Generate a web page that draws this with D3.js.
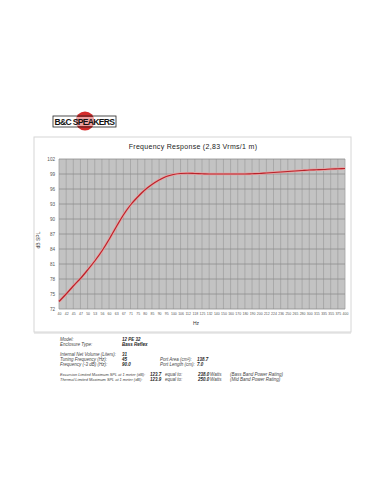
<!DOCTYPE html>
<html>
<head>
  <meta charset="utf-8">
  <script src="https://cdn.jsdelivr.net/npm/d3@7"></script>
  <style>
    body { margin: 0; background: #fff; }
    svg { display: block; font-family: "Liberation Sans", Arial, sans-serif; }
    .spec { font-size: 4.5px; font-style: italic; fill: #444; }
    .spec.val { font-weight: bold; fill: #222; }
    .spec.long { font-size: 3.9px; }
  </style>
</head>
<body>
<script>
  // frequency bands (Hz), one per category
  const freqLabels = ["40","42","45","47","50","53","56","60","63","67","71","75","80","85","90","95",
    "100","106","112","118","125","132","140","150","160","170","180","190","200","212","224","236",
    "250","265","280","300","315","335","355","375","400"];
  // SPL (dB) for each band
  const splValues = [73.5, 75.0, 76.6, 78.1, 79.8, 81.6, 83.6, 85.9, 88.4, 90.8, 92.8, 94.4, 95.8,
    96.9, 97.8, 98.5, 98.9, 99.1, 99.15, 99.1, 99.05, 99.0, 99.0, 99.0, 99.0, 99.0, 99.0, 99.05,
    99.1, 99.2, 99.3, 99.4, 99.5, 99.6, 99.7, 99.8, 99.85, 99.9, 100.0, 100.05, 100.1];
  const yTicks = [72, 75, 78, 81, 84, 87, 90, 93, 96, 99, 102];

  const specRows = [
    ["Model:", "12 PE 32"],
    ["Enclosure Type:", "Bass Reflex"],
    ["Internal Net Volume (Liters):", "31"],
    ["Tuning Frequency (Hz):", "45", "Port Area (cm\u00b2):", "138.7"],
    ["Frequency (-3 dB) (Hz):", "90.0", "Port Length (cm):", "7.0"],
    ["Excursion Limited Maximum SPL at 1 meter (dB):", "123.7", "equal to:", "238.0", "Watts", "(Bass Band Power Rating)"],
    ["Thermal Limited Maximum SPL at 1 meter (dB):", "123.9", "equal to:", "250.0", "Watts", "(Mid Band Power Rating)"]
  ];

  const w = 381, h = 492;
  const plot = { left: 59, right: 345, top: 159, bottom: 309 };

  const svg = d3.select("body").append("svg")
    .attr("width", w).attr("height", h);

  // logo
  const logo = svg.append("g").attr("transform", "translate(53,113)");
  logo.append("circle").attr("cx", 32).attr("cy", 8).attr("r", 9.5).attr("fill", "#d42a2a");
  logo.append("rect").attr("x", 0).attr("y", 3).attr("width", 63).attr("height", 11)
    .attr("fill", "none").attr("stroke", "#222").attr("stroke-width", 0.8);
  logo.append("rect").attr("x", 1).attr("y", 4).attr("width", 61).attr("height", 9)
    .attr("fill", "#fff").attr("fill-opacity", 0.55);
  logo.append("text").attr("x", 31.5).attr("y", 11.8).attr("text-anchor", "middle")
    .attr("font-size", "8.6px").attr("font-weight", "bold").attr("letter-spacing", "-0.5px")
    .attr("fill", "#111").attr("textLength", 60).text("B&C SPEAKERS");

  // chart frame
  svg.append("rect").attr("x", 34).attr("y", 137).attr("width", 317).attr("height", 195)
    .attr("fill", "none").attr("stroke", "#d6d6d6").attr("stroke-width", 1);

  svg.append("text").attr("x", 193).attr("y", 149).attr("text-anchor", "middle")
    .attr("font-size", "7px").attr("fill", "#222").attr("letter-spacing", "0.3px")
    .text("Frequency Response (2,83 Vrms/1 m)");

  const x = d3.scalePoint().domain(freqLabels).range([plot.left, plot.right]);
  const y = d3.scaleLinear().domain([72, 102]).range([plot.bottom, plot.top]);

  svg.append("rect").attr("x", plot.left).attr("y", plot.top)
    .attr("width", plot.right - plot.left).attr("height", plot.bottom - plot.top)
    .attr("fill", "#c3c3c3");

  // vertical grid
  svg.append("g").selectAll("line").data(freqLabels).join("line")
    .attr("x1", d => x(d)).attr("x2", d => x(d))
    .attr("y1", plot.top).attr("y2", plot.bottom)
    .attr("stroke", "#a2a2a2").attr("stroke-width", 0.8);

  // horizontal grid
  svg.append("g").selectAll("line").data(yTicks).join("line")
    .attr("x1", plot.left).attr("x2", plot.right)
    .attr("y1", d => y(d)).attr("y2", d => y(d))
    .attr("stroke", "#8e8e8e").attr("stroke-width", 0.8);

  // axes (labels only)
  const yAxis = d3.axisLeft(y).tickValues(yTicks).tickSize(0).tickPadding(4);
  svg.append("g").attr("transform", `translate(${plot.left},0)`).call(yAxis)
    .call(g => g.select(".domain").remove())
    .selectAll("text").attr("font-size", "4.6px").attr("fill", "#555")
    .attr("font-family", "Liberation Sans, Arial, sans-serif");

  const xAxis = d3.axisBottom(x).tickSize(0).tickPadding(4);
  svg.append("g").attr("transform", `translate(0,${plot.bottom})`).call(xAxis)
    .call(g => g.select(".domain").remove())
    .selectAll("text").attr("font-size", "3.5px").attr("fill", "#555")
    .attr("font-family", "Liberation Sans, Arial, sans-serif");

  svg.append("text").attr("transform", "translate(40,240) rotate(-90)")
    .attr("text-anchor", "middle").attr("font-size", "5px").attr("fill", "#333")
    .text("dB SPL");
  svg.append("text").attr("x", 196).attr("y", 325).attr("text-anchor", "middle")
    .attr("font-size", "5px").attr("fill", "#333").text("Hz");

  // response curve
  const line = d3.line()
    .x((d, i) => x(freqLabels[i]))
    .y(d => y(d))
    .curve(d3.curveMonotoneX);
  svg.append("path").datum(splValues).attr("d", line)
    .attr("fill", "none").attr("stroke", "#e9a0a0").attr("stroke-width", 2.6);
  svg.append("path").datum(splValues).attr("d", line)
    .attr("fill", "none").attr("stroke", "#b8232b").attr("stroke-width", 1.2);

  // separator under the chart
  svg.append("line").attr("x1", 34).attr("x2", 351).attr("y1", 333).attr("y2", 333)
    .attr("stroke", "#d6d6d6");

  // spec table
  const rowY = [339, 344, 354, 359, 364, 374, 379];
  const colX = [60, 122, 160, 197];
  const longColX = [60, 150, 165, 198, 210, 230];
  const specs = svg.append("g");
  specRows.forEach(function (row, r) {
    const long = row.length > 4;
    const cols = long ? longColX : colX;
    row.forEach(function (txt, c) {
      const isVal = long ? (c === 1 || c === 3) : (c % 2 === 1);
      let cls = isVal ? "spec val" : "spec";
      if (long && c === 0) cls += " long";
      specs.append("text").attr("class", cls)
        .attr("x", cols[c]).attr("y", rowY[r] + 2).text(txt);
    });
  });
</script>
</body>
</html>
